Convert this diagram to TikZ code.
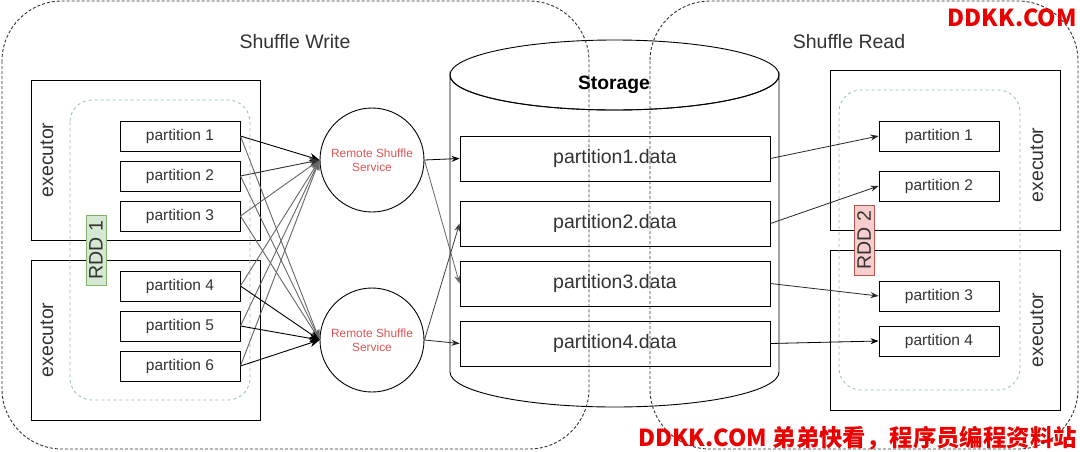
\documentclass[tikz,border=0pt]{standalone}
\usepackage{fontspec}
\setmainfont{Liberation Sans}
\newfontfamily\cjk{Noto Sans CJK SC}
\usetikzlibrary{arrows.meta}
\definecolor{txt}{HTML}{333333}
\definecolor{rddline}{HTML}{8FC3A5}
\definecolor{rddgreenfill}{HTML}{D5E8D4}
\definecolor{rddgreendraw}{HTML}{82B366}
\definecolor{rddredfill}{HTML}{F8CECC}
\definecolor{rddreddraw}{HTML}{B85450}
\definecolor{svc}{RGB}{214,86,86}
\definecolor{wm}{RGB}{235,0,0}
\begin{document}
\begin{tikzpicture}[x=1pt,y=-1pt,
  part/.style={draw, line width=0.9pt, minimum width=120pt, minimum height=30pt, inner sep=0pt,
    font=\fontsize{15.5}{18}\selectfont, text=txt},
  databox/.style={draw, line width=0.9pt, fill=white, minimum width=310pt, minimum height=45pt, inner sep=0pt,
    font=\fontsize{19.5}{22}\selectfont, text=txt},
  execbox/.style={draw, line width=1pt, inner sep=0pt},
  execlbl/.style={rotate=90, font=\fontsize{19.5}{22}\selectfont, text=txt},
  rddzone/.style={draw=rddline, dash pattern=on 3pt off 3pt, rounded corners=22pt, line width=0.8pt},
  rddlbl/.style={rotate=90, minimum width=70pt, minimum height=20pt, inner sep=0pt,
    font=\fontsize{19.5}{22}\selectfont, text=txt},
  svcnode/.style={circle, draw, line width=0.9pt, minimum size=104pt, inner sep=0pt, align=center,
    font=\fontsize{11.9}{14}\selectfont, text=svc},
  zone/.style={draw=black!80, dash pattern=on 3pt off 2pt, rounded corners=60pt, line width=0.9pt},
  title/.style={font=\fontsize{19.5}{22}\selectfont, text=txt},
  bigarr/.style={-{Stealth[length=10pt,width=8pt]}, line width=0.9pt},
  smallarr/.style={-{Stealth[length=8pt,width=6pt]}, line width=0.8pt},
  wmark/.style={text=wm, font=\cjk\bfseries\fontsize{23.4}{26}\selectfont, inner sep=0pt, anchor=east}
]
\useasboundingbox[fill=white] (0,0) rectangle (1080,451);

% titles
\node[title] (tw) at (295,42) {Shuffle Write};
\node[title] (tr) at (849,42) {Shuffle Read};

% left executors
\node[execbox, minimum width=229pt, minimum height=160pt] (ex1) at (145.5,160) {};
\node[execbox, minimum width=229pt, minimum height=160pt] (ex2) at (145.5,340) {};
\node[execlbl] (ex1l) at (47,160) {executor};
\node[execlbl] (ex2l) at (47,340) {executor};
\draw[rddzone] (70,100) rectangle (250,400);
\node[rddlbl, fill=rddgreenfill, draw=rddgreendraw] (rdd1) at (96,250) {RDD 1};

\node[part] (lp1) at (180,136) {partition 1};
\node[part] (lp2) at (180,176) {partition 2};
\node[part] (lp3) at (180,216) {partition 3};
\node[part] (lp4) at (180,286) {partition 4};
\node[part] (lp5) at (180,326) {partition 5};
\node[part] (lp6) at (180,366) {partition 6};

% services
\node[svcnode] (c1) at (372,160) {Remote Shuffle\\Service};
\node[svcnode] (c2) at (372,340) {Remote Shuffle\\Service};

% storage cylinder
\draw[line width=0.9pt, fill=white] (450,75) -- (450,372)
  arc[start angle=180, end angle=0, x radius=164.5, y radius=35] -- (779,75)
  arc[start angle=0, end angle=180, x radius=164.5, y radius=35] -- cycle;
\draw[line width=0.9pt] (614.5,75) ellipse[x radius=164.5, y radius=35];
\node[font=\bfseries\fontsize{19.3}{22}\selectfont] (stor) at (614,85) {Storage};

\node[databox] (d1) at (615,158.5) {partition1.data};
\node[databox] (d2) at (615,223.5) {partition2.data};
\node[databox] (d3) at (615,283.5) {partition3.data};
\node[databox] (d4) at (615,343.5) {partition4.data};

% right executors
\node[execbox, minimum width=230pt, minimum height=160pt] (ex3) at (945,150) {};
\node[execbox, minimum width=230pt, minimum height=160pt] (ex4) at (945,330) {};
\node[execlbl] (ex3l) at (1037,165) {executor};
\node[execlbl] (ex4l) at (1037,330) {executor};
\draw[rddzone] (839,90) rectangle (1020,390);
\node[rddlbl, fill=rddredfill, draw=rddreddraw] (rdd2) at (864,240) {RDD 2};

\node[part] (rp1) at (939,136) {partition 1};
\node[part] (rp2) at (939,186) {partition 2};
\node[part] (rp3) at (939,296) {partition 3};
\node[part] (rp4) at (939,341) {partition 4};

% partitions to services
\foreach \p in {lp3,lp4,lp5,lp6}{\draw[bigarr, draw=black!60] (\p.east) -- (c1.west);}
\foreach \p in {lp1,lp2,lp3}{\draw[bigarr, draw=black!60] (\p.east) -- (c2.west);}
\draw[bigarr] (lp1.east) -- (c1.west);
\draw[bigarr, draw=black!80] (lp2.east) -- (c1.west);
\draw[bigarr] (lp4.east) -- (c2.west);
\draw[bigarr] (lp5.east) -- (c2.west);
\draw[bigarr] (lp6.east) -- (c2.west);

% services to storage
\draw[smallarr] (c1.east) -- (d1.west);
\draw[smallarr, draw=black!60] (c1.east) -- (d3.west);
\draw[smallarr, draw=black!75] (c2.east) -- (d2.west);
\draw[smallarr, draw=black!85] (c2.east) -- (d4.west);

% storage to readers
\draw[smallarr, draw=black!85] (d1.east) -- (rp1.west);
\draw[smallarr, draw=black!85] (d2.east) -- (rp2.west);
\draw[smallarr, draw=black!85] (d3.east) -- (rp3.west);
\draw[smallarr] (d4.east) -- (rp4.west);

% zones
\draw[zone] (2,1) rectangle (589,449);
\draw[zone] (650,1) rectangle (1078,449);

% watermarks
\node[wmark] (wm1) at (1077,18) {DDKK.COM};
\node[wmark] (wm2) at (1077,438) {DDKK.COM 弟弟快看，程序员编程资料站};
\end{tikzpicture}
\end{document}
